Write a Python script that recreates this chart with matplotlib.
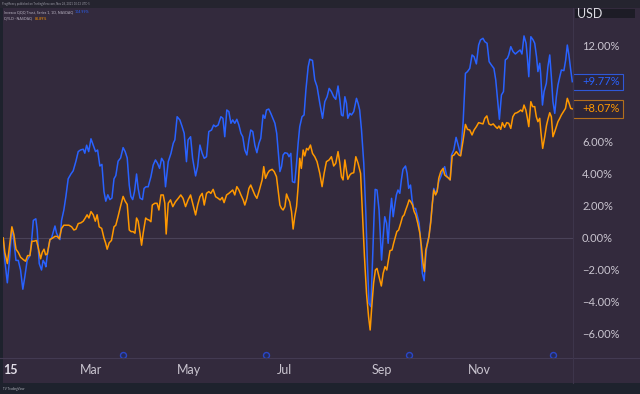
import matplotlib
matplotlib.use("Agg")
import matplotlib.pyplot as plt
from matplotlib.patches import Rectangle
from matplotlib.lines import Line2D

plt.rcParams['font.family'] = ['Lato', 'DejaVu Sans']

BG = '#332a3d'
DARK = '#1e222d'
BLUE = '#2962ff'
ORANGE = '#ff9800'
TXT = '#c9c4cf'

# (trading day, % change) for Invesco QQQ Trust
qqq_pts = [
    (0.0, 0.0), (0.7, -1.4), (1.8, -2.8), (2.6, -1.6), (3.7, 0.5), (4.4, 0.1), (5.6, -1.4), (6.6, -1.4),
    (7.6, -2.0), (8.6, -3.2), (9.5, -2.4), (10.5, -1.4), (11.7, -1.1), (12.5, -0.1), (13.2, 1.1), (14.3, 1.2),
    (14.9, 0.5), (15.8, -1.6), (16.8, -2.0), (17.5, -1.4), (18.3, -1.6), (18.7, -1.8), (19.3, -1.1), (20.5, -0.1),
    (21.2, 0.0), (22.7, 0.75), (23.4, 0.3), (24.1, 0.1), (24.9, -0.1), (25.6, 1.1), (26.6, 1.75), (27.5, 2.6),
    (28.5, 3.7), (29.7, 4.0), (30.7, 4.2), (31.9, 4.8), (32.9, 5.4), (33.9, 5.5), (35.1, 5.55), (35.8, 5.3),
    (36.6, 5.8), (37.5, 5.4), (38.5, 6.2), (39.5, 5.8), (40.5, 5.4), (41.4, 5.5), (42.4, 4.5), (43.3, 4.6),
    (44.2, 2.9), (45.0, 2.3), (45.9, 2.7), (46.8, 2.4), (47.7, 2.5), (48.6, 3.7), (49.4, 3.9), (50.4, 4.8),
    (51.5, 5.0), (52.6, 5.65), (53.5, 5.4), (54.4, 5.0), (55.3, 3.3), (56.0, 2.6), (56.8, 2.4), (57.6, 2.9),
    (58.5, 4.0), (59.2, 3.1), (60.0, 2.5), (61.1, 2.4), (61.8, 3.1), (62.6, 3.2), (63.6, 3.2), (64.8, 3.83),
    (65.8, 4.56), (66.8, 4.88), (67.7, 4.67), (68.6, 4.35), (69.5, 4.98), (70.4, 4.77), (71.2, 3.2), (72.4, 4.77),
    (73.6, 5.29), (74.6, 5.92), (75.3, 6.13), (76.3, 7.58), (77.5, 7.38), (78.5, 6.96), (79.4, 6.54), (80.4, 4.77),
    (81.1, 6.13), (82.2, 6.33), (83.1, 4.98), (84.4, 3.88), (85.3, 4.46), (86.3, 5.81), (87.3, 5.29), (88.2, 4.98),
    (89.2, 5.08), (90.2, 6.65), (91.4, 6.75), (92.3, 7.06), (93.2, 6.96), (94.3, 7.06), (95.5, 7.58), (96.4, 7.48),
    (97.2, 6.33), (98.1, 8.0), (99.0, 7.9), (99.9, 7.17), (100.7, 7.38), (101.6, 7.17), (102.5, 7.42), (103.4, 7.06),
    (104.3, 6.54), (105.1, 6.33), (106.0, 5.5), (106.9, 5.19), (107.8, 6.13), (108.6, 6.75), (109.5, 6.65), (110.4, 5.81),
    (111.3, 5.33), (112.2, 5.92), (113.0, 6.23), (114.0, 7.69), (114.8, 7.48), (115.5, 8.0), (116.5, 8.06), (117.4, 7.79),
    (118.3, 7.48), (119.2, 7.17), (120.0, 6.54), (120.6, 5.5), (121.4, 4.15), (122.1, 4.46), (122.8, 5.19), (123.6, 5.33),
    (124.7, 5.29), (125.4, 5.08), (126.2, 5.29), (126.9, 3.52), (127.9, 3.46), (128.7, 4.67), (129.4, 5.92), (130.1, 6.96),
    (131.1, 7.58), (132.0, 7.69), (132.8, 9.25), (133.8, 10.7), (134.5, 11.17), (135.7, 11.1), (136.7, 9.88), (137.7, 9.46),
    (138.9, 8.42), (140.1, 7.48), (141.1, 8.52), (142.1, 8.83), (143.0, 9.35), (144.0, 9.15), (145.0, 8.83), (145.9, 8.67),
    (146.9, 9.5), (147.7, 8.63), (148.4, 7.69), (149.1, 7.63), (149.9, 8.83), (150.6, 8.42), (151.2, 7.48), (152.1, 7.79),
    (152.8, 7.69), (153.8, 7.9), (155.0, 8.73), (155.7, 8.42), (156.4, 8.0), (157.2, 6.75), (158.2, 4.67), (159.1, 1.54),
    (159.8, -1.58), (160.5, -4.08), (161.3, -4.29), (162.0, -1.58), (162.7, 1.33), (163.2, 3.04), (164.0, 3.0), (164.9, 1.75),
    (166.0, -1.38), (166.7, 0.08), (167.4, 1.33), (168.2, 0.92), (168.9, -0.33), (169.6, 1.33), (170.4, 2.48), (171.1, 1.33),
    (171.8, 2.06), (172.5, 2.69), (173.2, 3.0), (174.0, 2.79), (174.7, 3.63), (175.4, 4.29), (176.5, 4.5), (177.2, 4.04),
    (177.9, 3.1), (178.7, 3.31), (179.4, 2.38), (180.1, 1.85), (180.9, 1.85), (181.8, 1.33), (182.5, 0.92), (183.2, -0.33),
    (183.9, -2.21), (184.7, -2.67), (185.4, -1.17), (186.0, -0.33), (186.8, 0.13), (187.6, 1.13), (188.3, 2.17), (188.9, 3.1),
    (189.7, 2.79), (190.4, 3.0), (191.1, 3.52), (192.0, 3.83), (193.0, 4.25), (193.7, 4.46), (194.6, 3.88), (195.5, 3.73),
    (196.1, 3.63), (196.7, 5.19), (197.7, 5.5), (198.7, 6.29), (199.6, 5.81), (200.7, 5.19), (201.8, 7.27), (202.8, 10.29),
    (203.7, 10.4), (204.7, 10.6), (205.7, 11.44), (206.6, 11.33), (207.6, 10.88), (208.6, 12.06), (209.4, 12.38), (210.5, 12.48),
    (211.3, 12.27), (212.3, 12.17), (213.2, 11.02), (214.2, 10.81), (215.3, 10.6), (216.1, 9.88), (216.8, 8.83), (217.7, 7.42),
    (218.6, 8.94), (219.5, 9.15), (220.3, 11.13), (221.2, 11.23), (221.8, 11.44), (222.7, 11.96), (223.7, 11.65), (224.7, 11.5),
    (225.9, 11.65), (226.8, 11.75), (227.6, 11.5), (228.5, 12.63), (229.4, 12.17), (230.0, 11.23), (230.6, 10.08), (231.5, 12.58),
    (232.5, 12.38), (233.2, 12.17), (234.0, 11.33), (234.6, 10.4), (235.4, 10.92), (235.8, 10.29), (236.6, 8.31), (237.3, 9.15),
    (238.3, 9.67), (239.0, 10.71), (239.8, 11.44), (240.5, 10.08), (241.2, 8.52), (242.0, 7.79), (242.7, 8.83), (243.4, 9.56),
    (244.2, 10.08), (244.9, 10.5), (246.0, 10.46), (246.8, 11.13), (247.5, 12.06), (248.2, 11.44), (249.0, 10.5), (249.7, 9.77),
]

# (trading day, % change) for QYLD
qyld_pts = [
    (0.0, 0.0), (0.7, -0.9), (1.8, -1.6), (2.6, -0.7), (3.8, 0.7), (4.7, 0.2), (5.6, -0.7), (6.6, -0.9),
    (7.6, -1.2), (8.8, -1.35), (9.8, -1.45), (10.7, -1.1), (11.7, -1.1), (12.6, -0.2), (13.5, -0.2), (14.6, -0.15),
    (15.5, -0.7), (16.4, -1.3), (17.1, -0.9), (17.9, -0.7), (18.6, -1.05), (19.3, -1.0), (20.5, -0.1), (21.7, 0.0),
    (22.7, 0.1), (23.7, 0.1), (24.6, -0.05), (25.6, 0.6), (26.6, 0.8), (27.8, 0.8), (28.8, 0.8), (30.0, 0.7),
    (31.0, 0.5), (31.9, 0.55), (32.9, 0.9), (34.1, 0.95), (35.1, 1.05), (36.0, 1.25), (36.8, 1.45), (37.6, 1.25),
    (38.5, 1.65), (39.5, 1.45), (40.4, 1.05), (41.2, 1.45), (42.1, 0.7), (43.2, 0.6), (44.2, 0.0), (44.9, -0.3),
    (45.6, -0.7), (46.5, -0.3), (47.5, -0.15), (48.6, 0.7), (49.4, 0.8), (50.4, 1.35), (51.5, 2.0), (52.6, 2.6),
    (53.5, 2.3), (54.4, 2.1), (55.3, 0.5), (56.1, 0.4), (57.0, 0.4), (57.8, 0.3), (58.5, 1.25), (59.2, 1.05),
    (60.0, 0.3), (60.7, -0.45), (61.4, 0.3), (62.5, 1.25), (63.3, 1.15), (63.9, 1.13), (64.8, 1.02), (65.4, 2.06),
    (66.5, 2.17), (67.5, 2.17), (68.3, 1.75), (69.2, 2.69), (70.2, 2.69), (70.9, 2.17), (71.5, 0.25), (72.4, 2.17),
    (73.4, 2.38), (74.4, 1.96), (75.6, 2.27), (76.8, 2.48), (77.9, 2.69), (78.9, 2.48), (80.0, 1.96), (81.1, 2.38),
    (82.2, 2.69), (83.1, 2.17), (84.4, 1.44), (85.3, 2.06), (86.3, 2.58), (87.3, 2.79), (88.2, 2.06), (89.2, 2.79),
    (90.2, 2.9), (91.1, 2.79), (92.1, 3.04), (93.2, 2.58), (94.3, 2.48), (95.2, 2.38), (96.1, 2.54), (96.9, 2.21),
    (98.0, 2.69), (99.0, 2.79), (99.9, 2.9), (100.7, 3.0), (101.6, 2.69), (102.5, 3.21), (103.4, 3.0), (104.3, 2.69),
    (105.3, 2.38), (106.0, 2.06), (106.9, 2.48), (107.8, 3.1), (108.6, 3.31), (109.5, 3.0), (110.4, 2.69), (111.3, 2.48),
    (112.2, 2.9), (113.0, 3.31), (113.6, 3.63), (114.3, 4.46), (115.1, 3.73), (116.0, 4.04), (116.8, 4.21), (118.0, 4.29),
    (118.9, 4.15), (119.9, 3.83), (120.6, 3.0), (121.4, 2.06), (122.1, 1.85), (122.8, 1.75), (123.6, 1.96), (124.3, 2.75),
    (125.0, 2.48), (125.7, 2.27), (126.5, 1.65), (127.2, 0.56), (127.9, 1.33), (128.7, 1.96), (129.4, 3.21), (130.1, 4.98),
    (130.8, 4.35), (131.6, 5.5), (132.3, 5.13), (133.1, 5.6), (133.8, 5.5), (134.8, 5.81), (135.7, 5.29), (136.7, 5.08),
    (137.7, 4.77), (138.9, 4.04), (139.9, 3.21), (140.8, 4.04), (141.8, 4.77), (143.0, 4.88), (144.0, 5.08), (145.0, 4.5),
    (145.9, 4.67), (146.9, 5.4), (147.7, 4.67), (148.4, 3.83), (149.1, 3.63), (149.9, 4.88), (150.6, 4.25), (151.2, 3.67),
    (152.1, 3.94), (152.8, 4.04), (153.8, 4.08), (154.7, 5.08), (155.7, 4.67), (156.8, 4.04), (157.6, 1.54), (158.5, -1.17),
    (159.4, -3.46), (160.3, -4.92), (161.0, -5.75), (161.7, -4.29), (162.5, -2.83), (163.3, -2.0), (164.0, -1.9), (164.9, -2.42),
    (165.9, -3.0), (166.7, -2.21), (167.5, -1.79), (168.3, -2.0), (169.0, -1.38), (169.7, -0.79), (170.6, -0.75), (171.3, -0.33),
    (172.0, 0.04), (172.7, 0.4), (173.5, 0.5), (174.4, 0.92), (175.2, 1.33), (175.9, 1.44), (176.6, 1.75), (177.4, 2.06),
    (178.1, 2.38), (178.8, 2.27), (179.6, 2.06), (180.3, 1.65), (181.0, 1.44), (181.9, 0.92), (182.8, 0.3), (183.5, -0.54),
    (184.2, -1.58), (184.8, -2.1), (185.4, -0.75), (186.2, -0.33), (186.8, 0.08), (187.6, 1.0), (188.3, 2.17), (188.9, 3.0),
    (189.7, 2.69), (190.4, 2.9), (191.1, 3.73), (192.0, 4.15), (193.0, 4.35), (193.7, 3.94), (194.6, 3.83), (195.5, 3.73),
    (196.1, 3.63), (197.0, 5.13), (197.8, 5.19), (198.8, 5.4), (199.9, 5.19), (200.7, 5.13), (201.8, 6.13), (202.8, 7.1),
    (203.7, 6.79), (204.7, 6.75), (205.7, 6.44), (206.6, 6.75), (207.6, 6.96), (208.6, 7.21), (209.5, 7.17), (210.5, 7.13),
    (211.3, 7.48), (212.2, 7.63), (213.1, 7.13), (214.0, 7.06), (215.0, 7.13), (216.0, 6.96), (216.8, 6.85), (217.5, 7.0),
    (218.3, 6.79), (219.0, 7.21), (220.0, 6.92), (220.9, 7.21), (221.8, 7.17), (222.7, 6.85), (223.6, 7.58), (224.5, 7.79),
    (225.4, 7.83), (226.2, 7.9), (227.1, 8.0), (227.8, 7.9), (228.5, 8.31), (229.3, 8.0), (230.0, 7.48), (230.6, 6.96),
    (231.5, 8.52), (232.3, 8.21), (233.2, 8.21), (233.9, 7.58), (234.6, 7.27), (235.4, 7.48), (235.9, 6.65), (236.7, 5.6),
    (237.6, 6.33), (238.4, 7.06), (239.0, 7.42), (239.8, 7.83), (240.5, 7.58), (241.2, 6.33), (242.0, 6.65), (242.7, 6.96),
    (243.4, 7.27), (244.2, 7.48), (244.9, 7.69), (245.8, 7.9), (246.7, 8.1), (247.5, 8.73), (248.2, 8.46), (249.0, 8.1),
    (249.7, 8.07),
]

tick_pos = [3.1, 38.5, 81.4, 123.3, 165.9, 208.9]
tick_lab = ['15', 'Mar', 'May', 'Jul', 'Sep', 'Nov']
div_days = [52.5, 115.2, 177.9, 241.1]
y_ticks = [-6, -4, -2, 0, 2, 4, 6, 8, 10, 12]
hidden_ticks = [8, 10]
last_qqq = 9.77
last_qyld = 8.07

t_qqq, qqq = zip(*qqq_pts)
t_qyld, qyld = zip(*qyld_pts)

W, H = 640, 394
fig = plt.figure(figsize=(6.4, 3.94), dpi=100, facecolor=BG)


def fx(px):
    return px / W


def fy(py):
    return 1 - py / H


fig.patches.append(Rectangle((0, fy(8)), 1, 8 / H, transform=fig.transFigure,
                             facecolor='#25242f', edgecolor='none', zorder=0))
fig.patches.append(Rectangle((0, 0), 1, 11 / H, transform=fig.transFigure,
                             facecolor=DARK, edgecolor='none', zorder=0))
fig.patches.append(Rectangle((0, fy(383)), 3 / W, (383 - 8) / H, transform=fig.transFigure,
                             facecolor=DARK, edgecolor='none', zorder=0))

ax = fig.add_axes([fx(3), fy(358), (573 - 3) / W, (358 - 8) / H])
ax.set_facecolor(BG)
for s in ax.spines.values():
    s.set_visible(False)
ax.set_xlim(-0.1, 250.0)
ax.set_ylim(-7.5, 14.375)

ax.axhline(0, color='#4a4258', lw=0.8, zorder=1)
ax.plot(t_qqq, qqq, color=BLUE, lw=1.1, zorder=3, solid_joinstyle='round')
ax.plot(t_qyld, qyld, color=ORANGE, lw=1.1, zorder=4, solid_joinstyle='round')

ax.plot(div_days, [0.009] * len(div_days), transform=ax.get_xaxis_transform(),
        marker='o', ls='none', ms=4.3, mfc='#262a55', mec='#2a47c8', mew=1.0,
        clip_on=False, zorder=5)

ax.yaxis.tick_right()
ax.set_yticks(y_ticks)
ax.set_yticklabels(['' if v in hidden_ticks else f"{v:.2f}%".replace('-', '\u2212') for v in y_ticks])
ax.tick_params(axis='y', length=0, pad=6.5, labelsize=8, labelcolor=TXT)
for lab in ax.get_yticklabels():
    lab.set_horizontalalignment('left')

ax.set_xticks(tick_pos)
ax.set_xticklabels(tick_lab)
ax.tick_params(axis='x', length=0, pad=4, labelsize=9, labelcolor=TXT)
first = ax.get_xticklabels()[0]
first.set_fontweight('bold')
first.set_color('#e2dee8')

ytr = ax.get_yaxis_transform()
for v, col, edge, h in [(last_qqq, BLUE, '#2f58d8', 1.0), (last_qyld, ORANGE, '#b36f1c', 1.1)]:
    ax.add_patch(Rectangle((1.0, v - h / 2), 50 / 570, h, transform=ytr,
                           facecolor='#2d2538', edgecolor=edge, lw=0.8,
                           clip_on=False, zorder=6))
    ax.text(1 + 9 / 570, v, f"+{v:.2f}%", transform=ytr, color=col, fontsize=8,
            va='center', ha='left', zorder=7, clip_on=False)

# separators
fig.add_artist(Line2D([0, 1], [fy(358), fy(358)], transform=fig.transFigure,
                      color='#433a52', lw=0.8))
fig.add_artist(Line2D([fx(573), fx(573)], [fy(8), fy(383)], transform=fig.transFigure,
                      color='#3d354b', lw=0.8))

# USD label
fig.patches.append(Rectangle((fx(575), fy(18)), 60 / W, 9 / H, transform=fig.transFigure,
                             facecolor='#1d1c26', edgecolor='none', zorder=2))
fig.text(fx(577), fy(13.5), "USD", fontsize=9, color='#dcdbe2', va='center', ha='left', zorder=3)

# header / legend texts
fig.text(fx(2), fy(4), "ProgMoney published on TradingView.com, Nov 28, 2021 10:13 UTC-5",
         fontsize=2.0, color='#9a9aa5', va='center', ha='left')
fig.text(fx(4), fy(12), "Invesco QQQ Trust, Series 1, 1D, NASDAQ", fontsize=2.6,
         color='#b9b3c2', va='center', ha='left')
fig.text(fx(75), fy(12), "104.99%", fontsize=2.6, color=BLUE, va='center', ha='left')
fig.text(fx(4), fy(18.5), "QYLD \u00b7 NASDAQ", fontsize=2.6, color='#b9b3c2', va='center', ha='left')
fig.text(fx(35), fy(18.5), "86.89%", fontsize=2.6, color=ORANGE, va='center', ha='left')
fig.text(fx(3), fy(389), "TV TradingView", fontsize=2.2, color='#b2b5be', va='center', ha='left')

fig.savefig('out.png', dpi=100, facecolor=BG)
